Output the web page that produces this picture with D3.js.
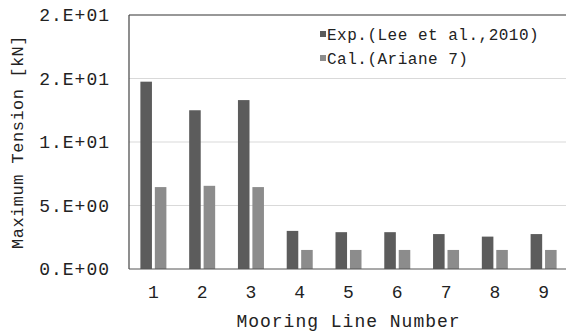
<!DOCTYPE html>
<html>
<head>
<meta charset="utf-8">
<script src="https://cdn.jsdelivr.net/npm/d3@7"></script>
<style>
  body { margin: 0; background: #fff; }
  text { font-family: "Liberation Mono", "DejaVu Sans Mono", monospace; fill: #222; }
</style>
</head>
<body>
<div id="chart"></div>
<script>
//Data
const categories = ["1", "2", "3", "4", "5", "6", "7", "8", "9"];
const seriesNames = ["Exp.(Lee et al.,2010)", "Cal.(Ariane 7)"];
const expValues = [14.75, 12.5, 13.3, 3.0, 2.9, 2.9, 2.75, 2.55, 2.75];
const calValues = [6.45, 6.55, 6.45, 1.5, 1.5, 1.5, 1.5, 1.5, 1.5];
const yTicks = [0, 5, 10, 15, 20];
const yTickLabels = ["0.E+00", "5.E+00", "1.E+01", "2.E+01", "2.E+01"];

//Dim and margins
const width = 566;
const height = 333;
const margin = {left: 129, right: -2, top: 15, bottom: 64};
const colors = ["#5c5c5c", "#8c8c8c"];

const svg = d3.select("#chart")
    .append("svg")
    .attr("width", width)
    .attr("height", height);

//Scaling
const xScale = d3.scaleBand()
    .domain(categories)
    .range([margin.left, width - margin.right])
    .padding(0);

const groupW = 26;
const xInner = d3.scaleBand()
    .domain([0, 1])
    .range([(xScale.bandwidth() - groupW) / 2, (xScale.bandwidth() + groupW) / 2])
    .paddingInner(0.2);

const yScale = d3.scaleLinear()
    .domain([0, 20])
    .range([height - margin.bottom, margin.top]);

//Gridlines
svg.append("g")
    .selectAll("line")
    .data(yTicks.slice(1, -1))
    .enter()
    .append("line")
    .attr("x1", margin.left)
    .attr("x2", width)
    .attr("y1", d => yScale(d))
    .attr("y2", d => yScale(d))
    .attr("stroke", "#d9d9d9")
    .attr("stroke-width", 1);

//Top border
svg.append("line")
    .attr("x1", margin.left).attr("x2", width)
    .attr("y1", yScale(20)).attr("y2", yScale(20))
    .attr("stroke", "#333").attr("stroke-width", 1.2);

//Bars
const series = [expValues, calValues];
series.forEach((vals, si) => {
    svg.append("g")
        .selectAll("rect")
        .data(vals)
        .enter()
        .append("rect")
        .attr("x", (d, i) => xScale(categories[i]) + xInner(si))
        .attr("y", d => yScale(d))
        .attr("width", xInner.bandwidth())
        .attr("height", d => yScale(0) - yScale(d))
        .attr("fill", colors[si]);
});

//Axes lines
svg.append("line")
    .attr("x1", margin.left).attr("x2", margin.left)
    .attr("y1", yScale(20)).attr("y2", yScale(0))
    .attr("stroke", "#444").attr("stroke-width", 1.2);
svg.append("line")
    .attr("x1", margin.left).attr("x2", width)
    .attr("y1", yScale(0)).attr("y2", yScale(0))
    .attr("stroke", "#555").attr("stroke-width", 1.2);

//Y tick labels
svg.append("g")
    .selectAll("text")
    .data(yTicks)
    .enter()
    .append("text")
    .text((d, i) => yTickLabels[i])
    .attr("x", 110)
    .attr("y", d => yScale(d))
    .attr("dy", "0.35em")
    .attr("text-anchor", "end")
    .style("font-size", "18px")
    .style("letter-spacing", "1px");

//X tick labels
svg.append("g")
    .selectAll("text")
    .data(categories)
    .enter()
    .append("text")
    .text(d => d)
    .attr("x", d => xScale(d) + xScale.bandwidth() / 2)
    .attr("y", 298)
    .attr("text-anchor", "middle")
    .style("font-size", "18px");

//Axis titles
svg.append("text")
    .text("Mooring Line Number")
    .attr("x", (margin.left + width - margin.right) / 2)
    .attr("y", 327)
    .attr("text-anchor", "middle")
    .style("font-size", "18px")
    .style("letter-spacing", "1px");

svg.append("text")
    .text("Maximum Tension [kN]")
    .attr("transform", `translate(23,${(yScale(0) + yScale(20)) / 2}) rotate(-90)`)
    .attr("text-anchor", "middle")
    .style("font-size", "17px")
    .style("letter-spacing", "0.5px");

//Legend
const legend = svg.append("g")
    .selectAll("g")
    .data(seriesNames)
    .enter()
    .append("g")
    .attr("transform", (d, i) => `translate(320,${40 + i * 24})`);

legend.append("rect")
    .attr("x", 0)
    .attr("y", -9)
    .attr("width", 6)
    .attr("height", 6)
    .attr("fill", (d, i) => colors[i]);

legend.append("text")
    .text(d => d)
    .attr("x", 7)
    .attr("y", 0)
    .style("font-size", "16px")
    .style("letter-spacing", "0.5px");
</script>
</body>
</html>
